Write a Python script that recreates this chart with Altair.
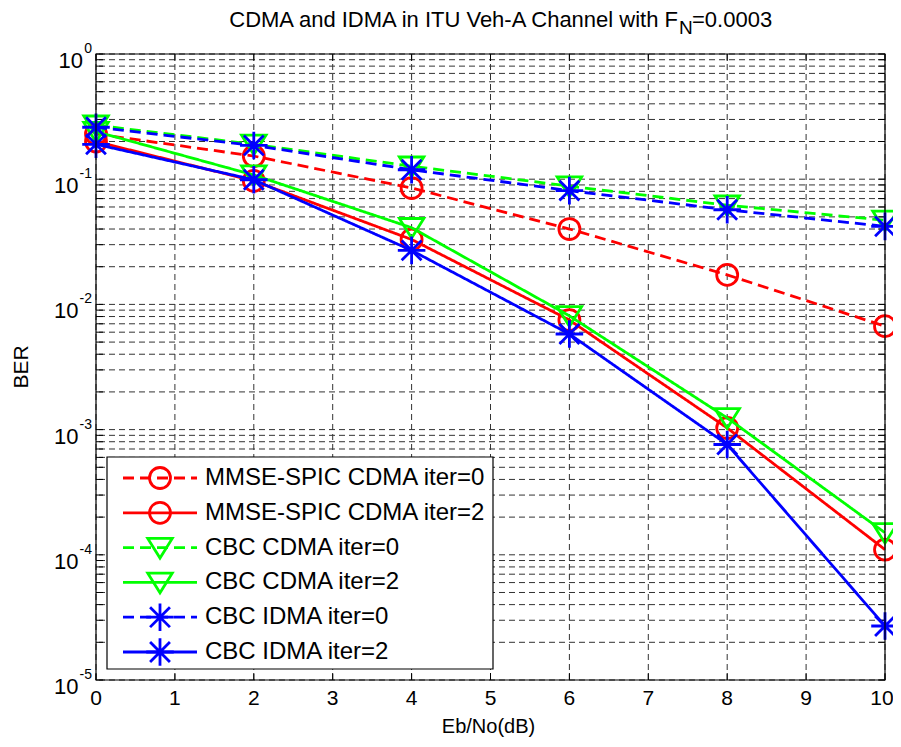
import altair as alt
import pandas as pd

# ---------------- data ----------------
ebno = [0, 2, 4, 6, 8, 10]
series_names = [
    "MMSE-SPIC CDMA iter=0",
    "MMSE-SPIC CDMA iter=2",
    "CBC CDMA iter=0",
    "CBC CDMA iter=2",
    "CBC IDMA iter=0",
    "CBC IDMA iter=2",
]
mmse_iter0 = [0.23, 0.153, 0.085, 0.040, 0.0172, 0.0067]
mmse_iter2 = [0.20, 0.097, 0.033, 0.0075, 0.00103, 0.00011]
cbc_cdma_iter0 = [0.27, 0.19, 0.127, 0.088, 0.062, 0.047]
cbc_cdma_iter2 = [0.24, 0.108, 0.041, 0.0081, 0.00124, 0.00015]
cbc_idma_iter0 = [0.26, 0.186, 0.119, 0.081, 0.057, 0.042]
cbc_idma_iter2 = [0.19, 0.099, 0.027, 0.0058, 0.00076, 0.000027]
all_values = [mmse_iter0, mmse_iter2, cbc_cdma_iter0, cbc_cdma_iter2, cbc_idma_iter0, cbc_idma_iter2]

series_colors = ["#ff0000", "#ff0000", "#00ff00", "#00ff00", "#0000ff", "#0000ff"]
series_dash = ["dashed", "solid", "dashed", "solid", "dashed", "solid"]
series_marker = ["o", "o", "v", "v", "*", "*"]

x_ticks = list(range(0, 11))
y_decades = [0, -1, -2, -3, -4, -5]

FONT = "Liberation Sans"
W, H = 789, 626
LW = 2.8

rows = []
for name, vals, dash, mk in zip(series_names, all_values, series_dash, series_marker):
    for x, v in zip(ebno, vals):
        rows.append({"series": name, "x": x, "ber": v, "dash": dash, "marker": mk})
df = pd.DataFrame(rows)

xscale = alt.Scale(domain=[0, 10], nice=False, zero=False)
yscale = alt.Scale(type="log", domain=[1e-5, 1], nice=False)
color_scale = alt.Scale(domain=series_names, range=series_colors)
dash_scale = alt.Scale(domain=["solid", "dashed"], range=[[1, 0], [11, 6]])
shape_scale = alt.Scale(
    domain=["o", "v", "*"],
    range=[
        "circle",
        "M-1,-0.75L1,-0.75L0,0.85Z",
        "M-1,0L1,0M0,-1L0,1M-0.72,-0.72L0.72,0.72M-0.72,0.72L0.72,-0.72",
    ],
)
size_scale = alt.Scale(domain=["o", "v", "*"], range=[440, 760, 480])

X = alt.X("x:Q", scale=xscale, axis=None)
Y = alt.Y("ber:Q", scale=yscale, axis=None)

base = alt.Chart(df)

# ---------------- grid ----------------
grid_y_vals = []
for d in range(-5, 0):
    for m in range(1, 10):
        grid_y_vals.append(m * 10.0 ** d)
grid_y_vals.append(1.0)
gy = pd.DataFrame({"ber": grid_y_vals})
gx = pd.DataFrame({"x": x_ticks})

grid_h = alt.Chart(gy).mark_rule(color="#333333", strokeWidth=1, strokeDash=[6, 4]).encode(
    y=alt.Y("ber:Q", scale=yscale, axis=None)
)
grid_v = alt.Chart(gx).mark_rule(color="#333333", strokeWidth=1, strokeDash=[6, 4]).encode(
    x=alt.X("x:Q", scale=xscale, axis=None)
)

tick_len = 7
yt_left = alt.Chart(gy).mark_rule(color="black", strokeWidth=1).encode(
    y=alt.Y("ber:Q", scale=yscale, axis=None), x=alt.value(0), x2=alt.value(tick_len)
)
yt_right = alt.Chart(gy).mark_rule(color="black", strokeWidth=1).encode(
    y=alt.Y("ber:Q", scale=yscale, axis=None), x=alt.value(W - tick_len), x2=alt.value(W)
)
xt_bot = alt.Chart(gx).mark_rule(color="black", strokeWidth=1).encode(
    x=alt.X("x:Q", scale=xscale, axis=None), y=alt.value(H - tick_len), y2=alt.value(H)
)
xt_top = alt.Chart(gx).mark_rule(color="black", strokeWidth=1).encode(
    x=alt.X("x:Q", scale=xscale, axis=None), y=alt.value(0), y2=alt.value(tick_len)
)

# ---------------- data lines ----------------
layers = [grid_h, grid_v, yt_left, yt_right, xt_bot, xt_top]
for name in series_names:
    sub = base.transform_filter(alt.datum.series == name)
    line = sub.mark_line(strokeWidth=LW, clip=True).encode(
        x=X, y=Y,
        color=alt.Color("series:N", scale=color_scale, legend=None),
        strokeDash=alt.StrokeDash("dash:N", scale=dash_scale, legend=None),
    )
    pts = sub.mark_point(filled=False, strokeWidth=LW, opacity=1).encode(
        x=X, y=Y,
        color=alt.Color("series:N", scale=color_scale, legend=None),
        shape=alt.Shape("marker:N", scale=shape_scale, legend=None),
        size=alt.Size("marker:N", scale=size_scale, legend=None),
    )
    layers += [line, pts]

# ---------------- frame ----------------
one = pd.DataFrame({"a": [0]})
frame = alt.Chart(one).mark_rect(fill=None, stroke="black", strokeWidth=1.2).encode(
    x=alt.value(0), x2=alt.value(W), y=alt.value(0), y2=alt.value(H)
)
layers.append(frame)

# ---------------- tick labels ----------------
gx_main = pd.DataFrame({"x": x_ticks[:-1]})
gx_last = pd.DataFrame({"x": x_ticks[-1:]})
xlab = alt.Chart(gx_main).mark_text(font=FONT, fontSize=21, baseline="middle", dy=19).encode(
    x=alt.X("x:Q", scale=xscale, axis=None), y=alt.value(H), text=alt.Text("x:Q", format="d")
)
xlab_last = alt.Chart(gx_last).mark_text(font=FONT, fontSize=21, baseline="middle", dy=19, dx=-3).encode(
    x=alt.X("x:Q", scale=xscale, axis=None), y=alt.value(H), text=alt.Text("x:Q", format="d")
)
EXP_FS = 14
ydf = pd.DataFrame({"ber": [10.0 ** d for d in y_decades], "exp": [str(d) for d in y_decades]})
ydf["x10"] = [-4 - (0.58 * EXP_FS if len(e) == 1 else 0.9 * EXP_FS) - 1 for e in ydf["exp"]]
ylab_base = alt.Chart(ydf).mark_text(font=FONT, fontSize=22, align="right", baseline="middle", dy=7).encode(
    y=alt.Y("ber:Q", scale=yscale, axis=None), x=alt.X("x10:Q", scale=None), text=alt.value("10")
)
ylab_exp = alt.Chart(ydf).mark_text(font=FONT, fontSize=EXP_FS, align="right", baseline="middle", dy=-5).encode(
    y=alt.Y("ber:Q", scale=yscale, axis=None), x=alt.value(-4), text="exp:N"
)
layers += [xlab, xlab_last, ylab_base, ylab_exp]

# ---------------- axis titles & title ----------------
xtitle = alt.Chart(one).mark_text(font=FONT, fontSize=20, baseline="middle").encode(
    x=alt.value(W / 2 - 2), y=alt.value(H + 47), text=alt.value("Eb/No(dB)")
)
ytitle = alt.Chart(one).mark_text(font=FONT, fontSize=21, baseline="middle", angle=270).encode(
    x=alt.value(-74), y=alt.value(H / 2), text=alt.value("BER")
)
F_END = 582
t_main = alt.Chart(one).mark_text(font=FONT, fontSize=22, align="right", baseline="alphabetic").encode(
    x=alt.value(F_END), y=alt.value(-27), text=alt.value("CDMA and IDMA in ITU Veh-A Channel with F")
)
t_sub = alt.Chart(one).mark_text(font=FONT, fontSize=19, align="left", baseline="alphabetic").encode(
    x=alt.value(F_END + 1), y=alt.value(-20), text=alt.value("N")
)
t_rest = alt.Chart(one).mark_text(font=FONT, fontSize=22, align="left", baseline="alphabetic").encode(
    x=alt.value(F_END + 14), y=alt.value(-27), text=alt.value("=0.0003")
)
layers += [xtitle, ytitle, t_main, t_sub, t_rest]

# ---------------- legend ----------------
LX0, LY0, LX1, LY1 = 11, 403, 397, 615
row_h = 34.8
leg = pd.DataFrame({
    "series": series_names,
    "dash": series_dash,
    "marker": series_marker,
    "ly": [LY0 + 21 + i * row_h for i in range(len(series_names))],
})
leg["lx0"] = LX0 + 16
leg["lx1"] = LX0 + 90
leg["lxm"] = LX0 + 53
leg["lxt"] = LX0 + 98

leg_box = alt.Chart(one).mark_rect(fill="white", stroke="black", strokeWidth=1.2).encode(
    x=alt.value(LX0), x2=alt.value(LX1), y=alt.value(LY0), y2=alt.value(LY1)
)
leg_lines = alt.Chart(leg).mark_rule(strokeWidth=LW).encode(
    x=alt.X("lx0:Q", scale=None), x2="lx1:Q", y=alt.Y("ly:Q", scale=None),
    color=alt.Color("series:N", scale=color_scale, legend=None),
    strokeDash=alt.StrokeDash("dash:N", scale=dash_scale, legend=None),
)
leg_pts = alt.Chart(leg).mark_point(filled=False, strokeWidth=LW, opacity=1).encode(
    x=alt.X("lxm:Q", scale=None), y=alt.Y("ly:Q", scale=None),
    color=alt.Color("series:N", scale=color_scale, legend=None),
    shape=alt.Shape("marker:N", scale=shape_scale, legend=None),
    size=alt.Size("marker:N", scale=size_scale, legend=None),
)
leg_text = alt.Chart(leg).mark_text(font=FONT, fontSize=24, align="left", baseline="middle").encode(
    x=alt.X("lxt:Q", scale=None), y=alt.Y("ly:Q", scale=None), text="series:N"
)
layers += [leg_box, leg_lines, leg_pts, leg_text]

chart = alt.layer(*layers).properties(
    width=W, height=H,
    autosize=alt.AutoSizeParams(type="none"),
    padding={"left": 88, "top": 46, "right": 8, "bottom": 59},
).configure_view(stroke=None).resolve_scale(
    color="shared", strokeDash="shared", shape="shared", size="shared"
)

chart.save("out.html", embed_options={"renderer": "svg", "actions": False})
